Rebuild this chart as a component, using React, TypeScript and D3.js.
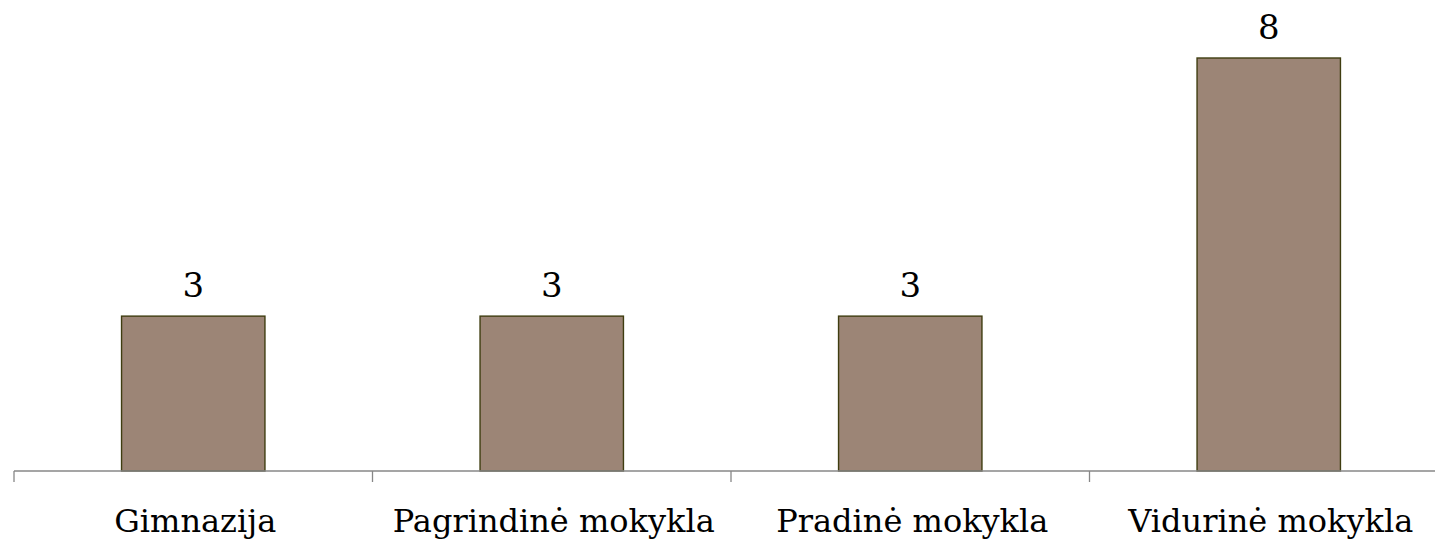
import { useEffect } from "react";
import * as d3 from "d3";

const categories = ["Gimnazija", "Pagrindinė mokykla", "Pradinė mokykla", "Vidurinė mokykla"];
const values = [3, 3, 3, 8];

const W = 1435;
const H = 542;

export default function App() {
  useEffect(() => {
    document.body.style.margin = "0";
  }, []);

  const left = 14;
  const step = 358.5;
  const baseY = 471;

  const x = d3
    .scaleBand<string>()
    .domain(categories)
    .range([left, left + step * categories.length])
    .paddingInner(0.6)
    .paddingOuter(0.3);

  const y = d3.scaleLinear().domain([0, 8]).range([baseY, 58]);

  const font = "'DejaVu Serif', serif";

  return (
    <svg width={W} height={H} style={{ display: "block" }}>
      {categories.map((c, i) => (
        <g key={c}>
          <rect
            x={x(c)}
            y={y(values[i])}
            width={x.bandwidth()}
            height={baseY - y(values[i])}
            fill="#9c8576"
            stroke="#3f3d10"
            strokeWidth={1.4}
          />
          <text
            x={x(c)! + x.bandwidth() / 2}
            y={y(values[i]) - 19}
            textAnchor="middle"
            fontFamily={font}
            fontSize={34}
            fill="#000"
          >
            {values[i]}
          </text>
          <text
            x={x(c)! + x.bandwidth() / 2 + 2}
            y={532}
            textAnchor="middle"
            fontFamily={font}
            fontSize={32}
            fill="#000"
          >
            {c}
          </text>
        </g>
      ))}
      <line x1={left} x2={W} y1={baseY} y2={baseY} stroke="#878787" strokeWidth={1.3} />
      {d3.range(categories.length).map((i) => (
        <line
          key={i}
          x1={left + step * i}
          x2={left + step * i}
          y1={baseY}
          y2={baseY + 11}
          stroke="#878787"
          strokeWidth={1.3}
        />
      ))}
    </svg>
  );
}
